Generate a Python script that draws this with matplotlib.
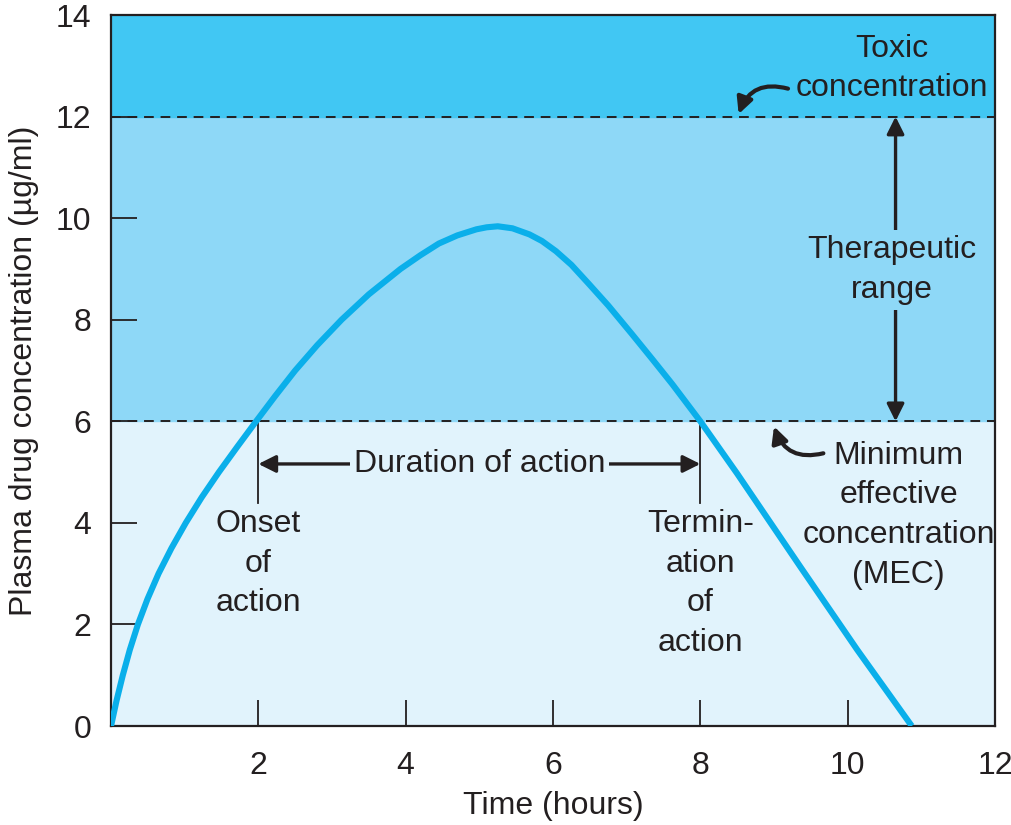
import matplotlib
matplotlib.use("Agg")
import matplotlib.pyplot as plt

# curve (hours, ug/ml)
time_h = [0.0, 0.075, 0.16, 0.255, 0.365, 0.495, 0.645, 0.82, 1.015, 1.23,
          1.465, 1.715, 1.97, 2.23, 2.5, 2.8, 3.13, 3.5, 3.93, 4.2, 4.45, 4.7,
          4.96, 5.1, 5.25, 5.45, 5.68, 5.85, 6.04, 6.25, 6.49, 6.75, 7.07,
          7.35, 7.62, 8.0, 8.5, 9.36, 10.13, 10.87]
conc = [0.0, 0.5, 1.0, 1.5, 2.0, 2.5, 3.0, 3.5, 4.0, 4.5,
        5.0, 5.5, 6.0, 6.5, 7.0, 7.5, 8.0, 8.5, 9.0, 9.27, 9.5, 9.66,
        9.78, 9.82, 9.84, 9.8, 9.68, 9.55, 9.35, 9.08, 8.7, 8.28, 7.72,
        7.22, 6.73, 6.0, 4.97, 3.13, 1.5, 0.0]

mec = 6
toxic = 12
onset = 2
termination = 8
x_ticks = [2, 4, 6, 8, 10, 12]
y_ticks = [0, 2, 4, 6, 8, 10, 12, 14]

COL = {
    "toxic": "#41c7f3",
    "thera": "#8ed8f7",
    "low":   "#e1f3fc",
    "curve": "#0aafea",
    "ink":   "#231f20",
}

plt.rcParams["font.family"] = ["Liberation Sans", "DejaVu Sans"]
FS = 23
LS = 1.42

fig = plt.figure(figsize=(10.12, 8.25), dpi=100)
ax = fig.add_axes([0.1097, 0.12, 0.8735, 0.8618])
ax.set_xlim(0, 12)
ax.set_ylim(0, 14)

ax.axhspan(0, mec, color=COL["low"], zorder=0)
ax.axhspan(mec, toxic, color=COL["thera"], zorder=0)
ax.axhspan(toxic, 14, color=COL["toxic"], zorder=0)
for lvl in (mec, toxic):
    ax.axhline(lvl, color=COL["ink"], lw=1.4, ls=(0, (5, 3.5)), zorder=2)

ax.plot(time_h, conc, color=COL["curve"], lw=4.4, solid_joinstyle="round",
        solid_capstyle="butt", zorder=3)

ax.set_xticks(x_ticks)
ax.set_yticks(y_ticks)
ax.tick_params(direction="in", length=19, width=1.3, colors=COL["ink"],
               labelsize=FS)
ax.tick_params(axis="x", pad=18)
ax.tick_params(axis="y", pad=14)
for s in ax.spines.values():
    s.set_linewidth(1.6)
    s.set_color(COL["ink"])
ax.set_xlabel("Time (hours)", fontsize=FS, color=COL["ink"], labelpad=7)
ax.set_ylabel("Plasma drug concentration (\u00b5g/ml)", fontsize=FS,
              color=COL["ink"], labelpad=12)

# onset / termination markers
ax.plot([onset, onset], [mec, 4.39], color=COL["ink"], lw=1.3, zorder=2)
ax.plot([termination, termination], [mec, 4.39], color=COL["ink"], lw=1.3, zorder=2)
ax.annotate("", xy=(onset, 5.16), xytext=(termination, 5.16),
            arrowprops=dict(arrowstyle="<|-|>", color=COL["ink"], lw=2.4,
                            mutation_scale=26, shrinkA=0, shrinkB=0), zorder=4)
ax.text(5.0, 5.16, "Duration of action", fontsize=FS, color=COL["ink"],
        ha="center", va="center", zorder=5,
        bbox=dict(boxstyle="square,pad=0.12", fc=COL["low"], ec="none"))

ax.text(onset, 4.27, "Onset\nof\naction", fontsize=FS, color=COL["ink"],
        ha="center", va="top", linespacing=LS)
ax.text(termination, 4.27, "Termin-\nation\nof\naction", fontsize=FS,
        color=COL["ink"], ha="center", va="top", linespacing=LS)

# therapeutic range arrow
ax.annotate("", xy=(10.65, toxic), xytext=(10.65, mec),
            arrowprops=dict(arrowstyle="<|-|>", color=COL["ink"], lw=2.4,
                            mutation_scale=26, shrinkA=0, shrinkB=0), zorder=4)
ax.text(10.6, 8.98, "Therapeutic\nrange", fontsize=FS, color=COL["ink"],
        ha="center", va="center", linespacing=LS, zorder=5,
        bbox=dict(boxstyle="square,pad=0.15", fc=COL["thera"], ec="none"))

# toxic label
ax.text(10.6, 12.95, "Toxic\nconcentration", fontsize=FS, color=COL["ink"],
        ha="center", va="center", linespacing=LS)
ax.annotate("", xy=(8.52, 12.05), xytext=(9.19, 12.55),
            arrowprops=dict(arrowstyle="-|>", color=COL["ink"], lw=3.0,
                            mutation_scale=24, shrinkA=0, shrinkB=0,
                            connectionstyle="arc3,rad=0.45"))

# MEC label
ax.text(10.69, 4.15, "Minimum\neffective\nconcentration\n(MEC)", fontsize=FS,
        color=COL["ink"], ha="center", va="center", linespacing=LS)
ax.annotate("", xy=(9.0, 5.9), xytext=(9.67, 5.37),
            arrowprops=dict(arrowstyle="-|>", color=COL["ink"], lw=3.0,
                            mutation_scale=24, shrinkA=0, shrinkB=0,
                            connectionstyle="arc3,rad=-0.45"))

fig.savefig("out.png", dpi=100)
